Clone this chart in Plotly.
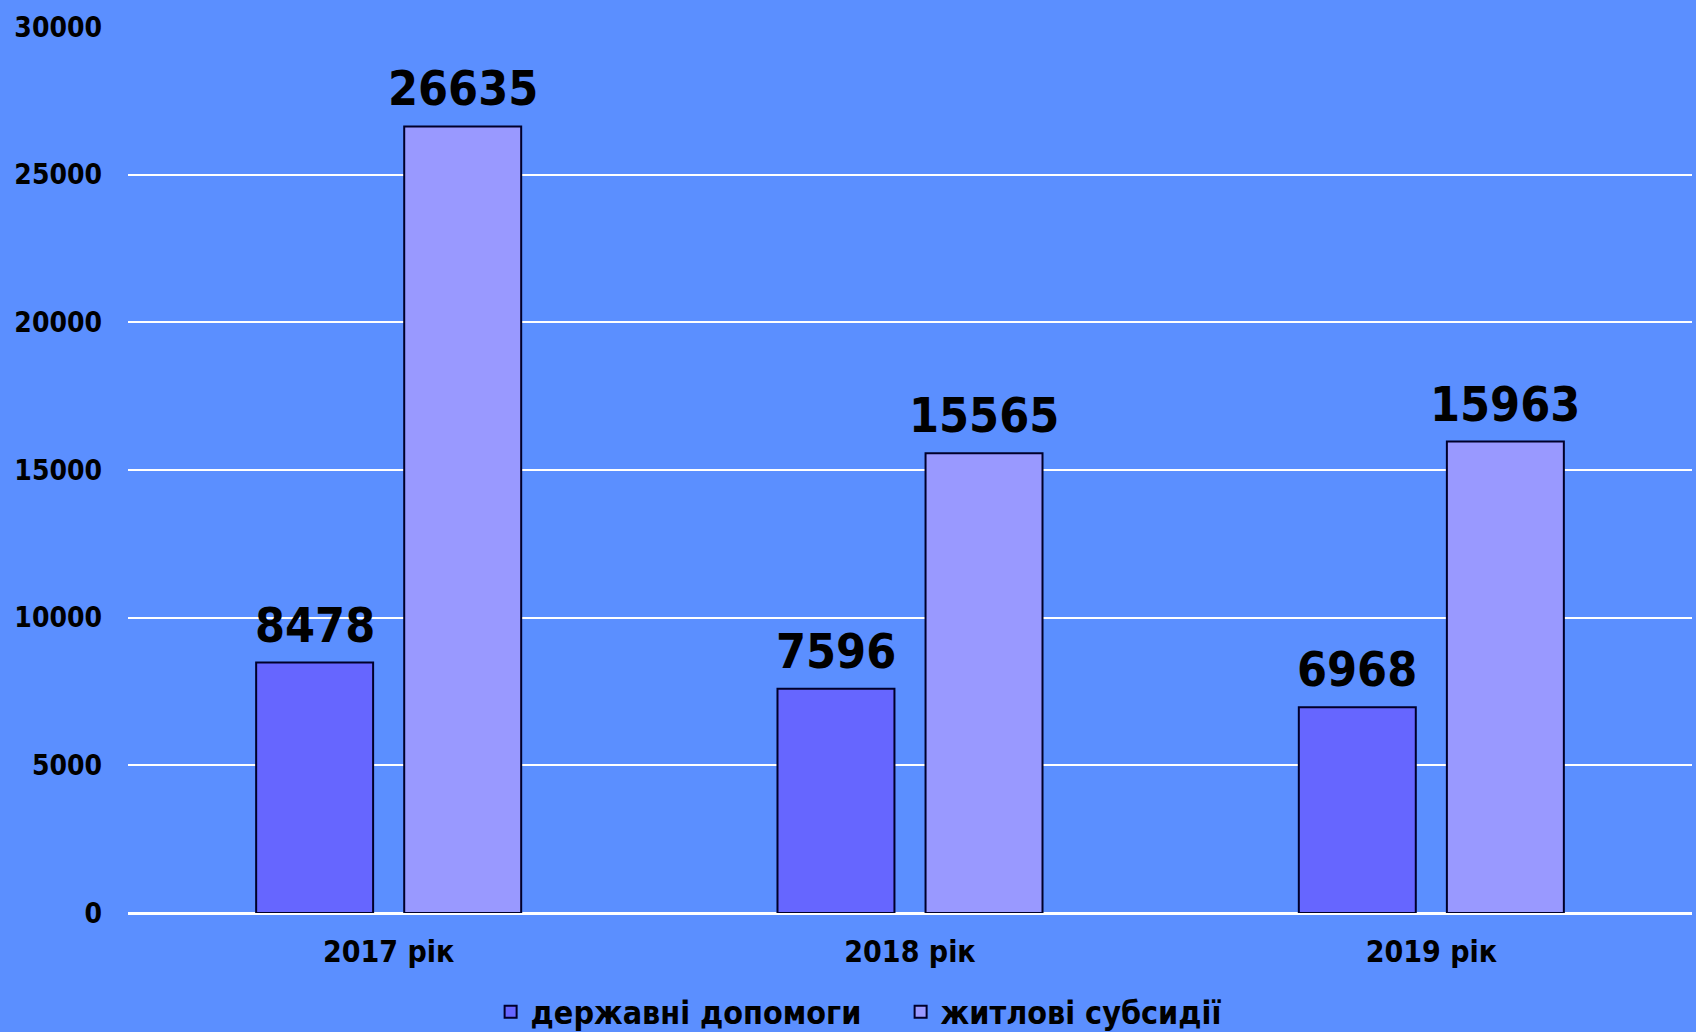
import plotly.graph_objects as go

categories = ["2017 рік", "2018 рік", "2019 рік"]
series_names = ["державні допомоги", "житлові субсидії"]
derzh = [8478, 7596, 6968]
zhytl = [26635, 15565, 15963]
y_ticks = [0, 5000, 10000, 15000, 20000, 25000, 30000]
y_tick_labels = ["0", "5000", "10000", "15000", "20000", "25000", "30000"]

BG = "#5B8FFF"
COLORS = ["#6666FF", "#9999FF"]
FONT = "DejaVu Sans Condensed, DejaVu Sans, sans-serif"

W, H = 1696, 1044
ML, MR, MT, MB = 128, 4, 27, 131
BARGAP = 0.432
plot_w = W - ML - MR
plot_h = H - MT - MB
cat_w = plot_w / len(categories)
slot = cat_w * (1 - BARGAP) / 2

fig = go.Figure()
for name, vals, col in zip(series_names, [derzh, zhytl], COLORS):
    fig.add_trace(go.Bar(
        x=categories, y=vals, name=name,
        marker=dict(color=col, line=dict(color="#00002A", width=2)),
    ))

annotations = []
for i, vals in enumerate([derzh, zhytl]):
    shift = (i - 0.5) * slot
    for c, v in zip(categories, vals):
        annotations.append(dict(
            x=c, y=v, xref="x", yref="y", text="<b>%d</b>" % v,
            showarrow=False, yanchor="bottom", xanchor="center",
            xshift=shift, yshift=8,
            font=dict(family=FONT, size=48, color="black"),
        ))

fig.update_layout(
    width=W, height=H,
    margin=dict(l=ML, r=MR, t=MT, b=MB),
    paper_bgcolor=BG, plot_bgcolor=BG,
    barmode="group", bargap=BARGAP, bargroupgap=0.21,
    font=dict(family=FONT, color="black"),
    annotations=annotations,
    legend=dict(
        orientation="h", x=0.494, xanchor="center", y=-99 / plot_h, yanchor="middle",
        font=dict(family=FONT, size=32, color="black", weight="bold"),
        bgcolor="rgba(0,0,0,0)", itemwidth=30, tracegroupgap=0,
        entrywidth=365, entrywidthmode="pixels",
    ),
    xaxis=dict(
        showgrid=False, showline=True, linecolor="white", linewidth=2,
        tickfont=dict(family=FONT, size=30, color="black", weight="bold"),
        ticklabelstandoff=11, ticks="",
    ),
    yaxis=dict(
        range=[0, 30000], tickvals=y_ticks, ticktext=y_tick_labels,
        showgrid=True, gridcolor="white", gridwidth=1.5,
        zeroline=True, zerolinecolor="white", zerolinewidth=2,
        showline=False,
        tickfont=dict(family=FONT, size=28, color="black", weight="bold"),
        ticklabelstandoff=25, ticks="",
    ),
)

fig.write_html(
    "out.html",
    config={"displayModeBar": False},
    post_script="document.body.style.margin='0';document.body.style.overflow='hidden';",
)
